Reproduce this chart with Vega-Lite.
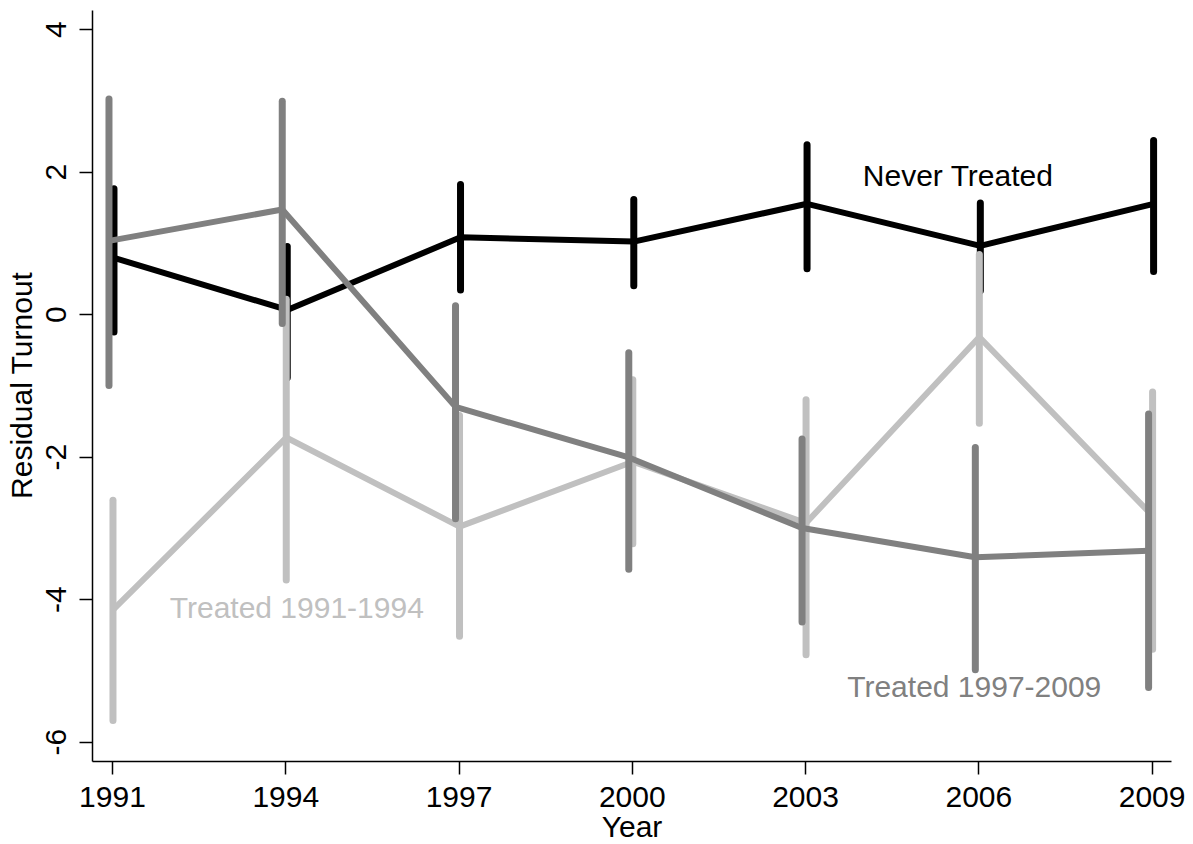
{
  "$schema": "https://vega.github.io/schema/vega-lite/v6.json",
  "autosize": "none",
  "width": 1079,
  "height": 751,
  "padding": {"left": 92, "top": 10, "right": 22, "bottom": 83},
  "background": "white",
  "config": {
    "view": {"stroke": null},
    "font": "Liberation Sans",
    "axis": {
      "grid": false,
      "domainColor": "black",
      "domainWidth": 1.5,
      "tickColor": "black",
      "tickWidth": 1.5,
      "tickSize": 13,
      "labelFont": "Liberation Sans",
      "labelFontSize": 30,
      "labelColor": "black",
      "titleFont": "Liberation Sans",
      "titleFontSize": 30,
      "titleFontWeight": "normal",
      "titleColor": "black"
    }
  },
  "datasets": {
    "est": [
      {"group": "Never Treated", "year": 1991, "est": 0.79, "lo": -0.25, "hi": 1.76},
      {"group": "Never Treated", "year": 1994, "est": 0.06, "lo": -0.89, "hi": 0.95},
      {"group": "Never Treated", "year": 1997, "est": 1.08, "lo": 0.34, "hi": 1.82},
      {"group": "Never Treated", "year": 2000, "est": 1.02, "lo": 0.40, "hi": 1.61},
      {"group": "Never Treated", "year": 2003, "est": 1.55, "lo": 0.64, "hi": 2.38},
      {"group": "Never Treated", "year": 2006, "est": 0.96, "lo": 0.33, "hi": 1.56},
      {"group": "Never Treated", "year": 2009, "est": 1.55, "lo": 0.60, "hi": 2.44},
      {"group": "Treated 1997-2009", "year": 1991, "est": 1.03, "lo": -1.00, "hi": 3.02},
      {"group": "Treated 1997-2009", "year": 1994, "est": 1.47, "lo": -0.13, "hi": 2.99},
      {"group": "Treated 1997-2009", "year": 1997, "est": -1.30, "lo": -2.87, "hi": 0.12},
      {"group": "Treated 1997-2009", "year": 2000, "est": -2.01, "lo": -3.58, "hi": -0.54},
      {"group": "Treated 1997-2009", "year": 2003, "est": -3.00, "lo": -4.32, "hi": -1.75},
      {"group": "Treated 1997-2009", "year": 2006, "est": -3.41, "lo": -4.99, "hi": -1.87},
      {"group": "Treated 1997-2009", "year": 2009, "est": -3.32, "lo": -5.24, "hi": -1.40},
      {"group": "Treated 1991-1994", "year": 1991, "est": -4.15, "lo": -5.70, "hi": -2.61},
      {"group": "Treated 1991-1994", "year": 1994, "est": -1.73, "lo": -3.73, "hi": 0.21},
      {"group": "Treated 1991-1994", "year": 1997, "est": -2.98, "lo": -4.52, "hi": -1.42},
      {"group": "Treated 1991-1994", "year": 2000, "est": -2.07, "lo": -3.22, "hi": -0.92},
      {"group": "Treated 1991-1994", "year": 2003, "est": -2.93, "lo": -4.78, "hi": -1.20},
      {"group": "Treated 1991-1994", "year": 2006, "est": -0.32, "lo": -1.53, "hi": 0.84},
      {"group": "Treated 1991-1994", "year": 2009, "est": -2.83, "lo": -4.70, "hi": -1.09}
    ],
    "labels": [
      {"label": "Never Treated", "year": 2004.0, "value": 1.93},
      {"label": "Treated 1991-1994", "year": 1992.0, "value": -4.14},
      {"label": "Treated 1997-2009", "year": 2003.73, "value": -5.24}
    ]
  },
  "encoding": {
    "x": {
      "field": "year", "type": "quantitative",
      "scale": {"domain": [1990.654, 2009.336], "nice": false, "zero": false},
      "axis": {"title": "Year", "values": [1991, 1994, 1997, 2000, 2003, 2006, 2009], "format": "d", "labelPadding": 8, "titlePadding": 0, "titleY": 75, "titleBaseline": "alphabetic"}
    }
  },
  "layer": [
    {
      "data": {"name": "est"},
      "transform": [{"filter": "datum.group === 'Never Treated'"}],
      "mark": {"type": "rule", "color": "black", "strokeWidth": 7, "strokeCap": "round", "xOffset": 2},
      "encoding": {
        "y": {"field": "lo", "type": "quantitative",
          "scale": {"domain": [-6.27, 4.27], "nice": false, "zero": false},
          "axis": {"title": "Residual Turnout", "values": [-6, -4, -2, 0, 2, 4], "labelExpr": "'' + datum.value", "labelAngle": 270, "labelAlign": "center", "labelBaseline": "bottom", "labelPadding": 8, "titleAngle": 270, "titleX": -70, "titleY": 375, "titleAlign": "center", "titleBaseline": "middle"}},
        "y2": {"field": "hi"}
      }
    },
    {
      "data": {"name": "est"},
      "transform": [{"filter": "datum.group === 'Never Treated'"}],
      "mark": {"type": "line", "color": "black", "strokeWidth": 6, "strokeJoin": "round", "xOffset": 2},
      "encoding": {"y": {"field": "est", "type": "quantitative"}}
    },
    {
      "data": {"name": "est"},
      "transform": [{"filter": "datum.group === 'Treated 1991-1994'"}],
      "mark": {"type": "rule", "color": "#c0c0c0", "strokeWidth": 7, "strokeCap": "round", "xOffset": 1},
      "encoding": {"y": {"field": "lo", "type": "quantitative"}, "y2": {"field": "hi"}}
    },
    {
      "data": {"name": "est"},
      "transform": [{"filter": "datum.group === 'Treated 1991-1994'"}],
      "mark": {"type": "line", "color": "#c0c0c0", "strokeWidth": 6, "strokeJoin": "round", "xOffset": 1},
      "encoding": {"y": {"field": "est", "type": "quantitative"}}
    },
    {
      "data": {"name": "est"},
      "transform": [{"filter": "datum.group === 'Treated 1997-2009'"}],
      "mark": {"type": "rule", "color": "#808080", "strokeWidth": 7, "strokeCap": "round", "xOffset": -3},
      "encoding": {"y": {"field": "lo", "type": "quantitative"}, "y2": {"field": "hi"}}
    },
    {
      "data": {"name": "est"},
      "transform": [{"filter": "datum.group === 'Treated 1997-2009'"}],
      "mark": {"type": "line", "color": "#808080", "strokeWidth": 6, "strokeJoin": "round", "xOffset": -3},
      "encoding": {"y": {"field": "est", "type": "quantitative"}}
    },
    {
      "data": {"name": "labels"},
      "mark": {"type": "text", "align": "left", "baseline": "middle", "fontSize": 30, "font": "Liberation Sans"},
      "encoding": {
        "y": {"field": "value", "type": "quantitative"},
        "text": {"field": "label"},
        "color": {"field": "label", "type": "nominal", "legend": null,
          "scale": {"domain": ["Never Treated", "Treated 1991-1994", "Treated 1997-2009"], "range": ["black", "#c0c0c0", "#808080"]}}
      }
    }
  ]
}
